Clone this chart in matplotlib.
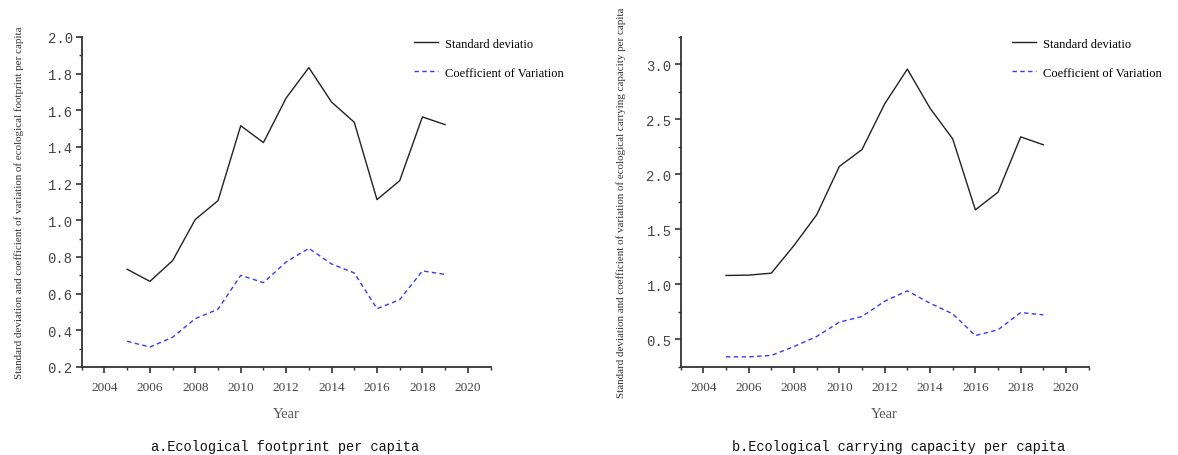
import matplotlib
matplotlib.use('Agg')
import matplotlib.pyplot as plt
from matplotlib.ticker import MultipleLocator, FormatStrFormatter

# data
years = [2005, 2006, 2007, 2008, 2009, 2010, 2011, 2012, 2013, 2014, 2015, 2016, 2017, 2018, 2019]

ef_sd = [0.733, 0.667, 0.78, 1.005, 1.107, 1.516, 1.424, 1.667, 1.833, 1.645, 1.535, 1.113, 1.216, 1.564, 1.522]
ef_cv = [0.34, 0.309, 0.362, 0.464, 0.515, 0.70, 0.66, 0.773, 0.847, 0.762, 0.713, 0.518, 0.567, 0.724, 0.705]

ecc_sd = [1.082, 1.085, 1.103, 1.355, 1.633, 2.073, 2.227, 2.642, 2.958, 2.603, 2.324, 1.679, 1.839, 2.342, 2.27]
ecc_cv = [0.342, 0.342, 0.355, 0.436, 0.527, 0.658, 0.709, 0.848, 0.942, 0.83, 0.733, 0.536, 0.588, 0.745, 0.724]

legend_labels = ['Standard deviatio', 'Coefficient of Variation']
ylabels = ['Standard deviation and coefficient of variation of ecological footprint per capita',
           'Standard deviation and coefficient of variation of ecological carrying capacity per capita']
captions = ['a.Ecological footprint per capita', 'b.Ecological carrying capacity per capita']

serif = 'Liberation Serif'
mono = 'Liberation Mono'

fig = plt.figure(figsize=(11.78, 4.56), dpi=100)
ax1 = fig.add_axes([0.0694, 0.193, 0.347, 0.7237])
ax2 = fig.add_axes([0.5778, 0.193, 0.3464, 0.7237])

panels = [
    (ax1, ef_sd, ef_cv, (0.2, 2.0), 0.2, 0.1, ylabels[0], captions[0], -0.141, 0.497),
    (ax2, ecc_sd, ecc_cv, (0.25, 3.25), 0.5, 0.25, ylabels[1], captions[1], -0.134, 0.535),
]

for ax, sd, cv, ylim, ymaj, ymin, ylab, cap, labx, capx in panels:
    ax.plot(years, sd, color='#222222', lw=1.0, label=legend_labels[0])
    ax.plot(years, cv, color='#3a3af0', lw=1.0, ls=(0, (3.2, 2.4)), label=legend_labels[1])
    ax.set_xlim(2003, 2021)
    ax.set_ylim(*ylim)
    ax.xaxis.set_major_locator(MultipleLocator(2))
    ax.xaxis.set_minor_locator(MultipleLocator(1))
    ax.yaxis.set_major_locator(MultipleLocator(ymaj))
    ax.yaxis.set_minor_locator(MultipleLocator(ymin))
    ax.yaxis.set_major_formatter(FormatStrFormatter('%.1f'))
    for s in ['top', 'right']:
        ax.spines[s].set_visible(False)
    for s in ['left', 'bottom']:
        ax.spines[s].set_linewidth(1.3)
        ax.spines[s].set_color('#333333')
    ax.tick_params(which='major', length=4, width=1.2, color='#333333')
    ax.tick_params(which='minor', length=2.5, width=1.0, color='#333333')
    ax.tick_params(axis='x', which='major', pad=6)
    ax.tick_params(axis='y', which='major', pad=2.5)
    for t in ax.get_xticklabels():
        t.set_fontfamily(serif)
        t.set_fontsize(9.5)
        t.set_color('#444444')
    for t in ax.get_yticklabels():
        t.set_fontfamily(mono)
        t.set_fontsize(10)
        t.set_color('#444444')
    ax.set_xlabel('Year', fontfamily=serif, fontsize=10.5, color='#555555', labelpad=10)
    ax.set_ylabel(ylab, fontfamily=serif, fontsize=7.9, color='#333333')
    ax.yaxis.set_label_coords(labx, 0.5)
    ax.text(capx, -0.239, cap, transform=ax.transAxes, ha='center', va='center',
            fontfamily=mono, fontsize=9.8, color='#111111')
    ax.legend(loc='upper left', bbox_to_anchor=(0.785, 1.032), frameon=False,
              prop={'family': serif, 'size': 9}, handlelength=1.9,
              labelspacing=1.35, handletextpad=0.55)

fig.savefig('out.png', dpi=100)
